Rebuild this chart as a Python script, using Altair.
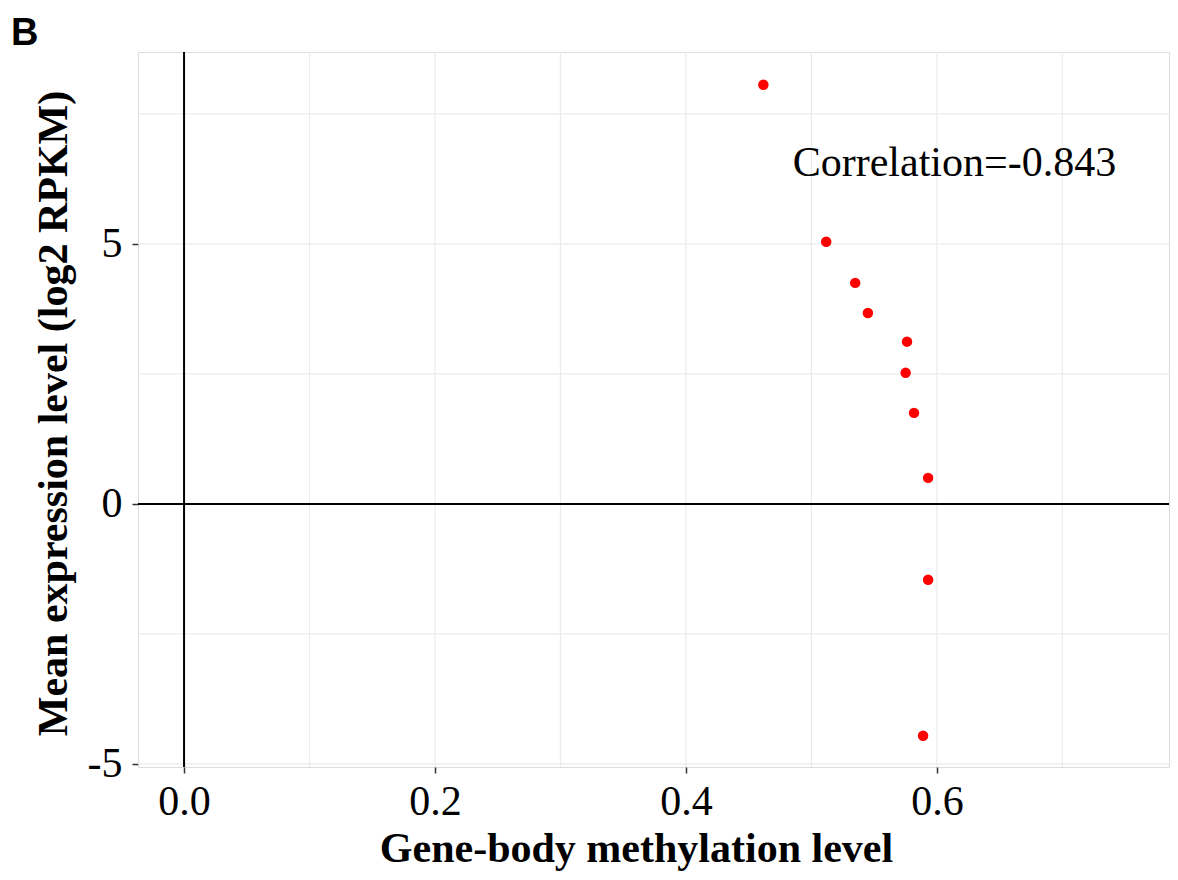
import altair as alt
import pandas as pd

# data
methylation = [0.4617, 0.5118, 0.5349, 0.5450, 0.5762, 0.5751, 0.5818, 0.5930, 0.5930, 0.5890]
expression = [8.06, 5.04, 4.25, 3.67, 3.12, 2.52, 1.75, 0.50, -1.46, -4.46]
x_ticks = [0.0, 0.2, 0.4, 0.6]
y_ticks = [-5, 0, 5]
x_grid = [0.0, 0.1, 0.2, 0.3, 0.4, 0.5, 0.6, 0.7]
y_grid = [-5, -2.5, 0, 2.5, 5, 7.5]
annot_text = ["Correlation=-0.843"]
annot_x = [0.614]
annot_y = [6.56]

x_dom = [-0.0367, 0.785]
y_dom = [-5.06, 8.69]

FONT = "Liberation Serif"

pts = pd.DataFrame({"x": methylation, "y": expression})
xg = pd.DataFrame({"x": x_grid})
yg = pd.DataFrame({"y": y_grid})
ann = pd.DataFrame({"t": annot_text, "x": annot_x, "y": annot_y})

xs = alt.Scale(domain=x_dom, nice=False, zero=False)
ys = alt.Scale(domain=y_dom, nice=False, zero=False)

x_axis = alt.Axis(
    values=x_ticks, labelExpr="format(datum.value, '.1f')", grid=False,
    title="Gene-body methylation level", titleFont=FONT, titleFontSize=42,
    titleFontWeight="bold", titleColor="black", titleX=498, titleY=94,
    titleBaseline="alphabetic", titleAlign="center",
    labelFont=FONT, labelFontSize=42, labelColor="black", labelPadding=8,
    tickSize=6, tickColor="#333333", tickWidth=1.5, domain=False,
)
y_axis = alt.Axis(
    values=y_ticks, labelExpr="'' + datum.value", grid=False,
    title="Mean expression level (log2 RPKM)", titleFont=FONT, titleFontSize=42,
    titleFontWeight="bold", titleColor="black", titleX=-72, titleY=361,
    titleBaseline="alphabetic", titleAlign="center", titleAngle=-90,
    labelFont=FONT, labelFontSize=42, labelColor="black", labelPadding=10,
    tickSize=6, tickColor="#333333", tickWidth=1.5, domain=False,
)

vgrid = alt.Chart(xg).mark_rule(color="#ebebeb", strokeWidth=1.2).encode(
    x=alt.X("x:Q", scale=xs, axis=x_axis)
)
hgrid = alt.Chart(yg).mark_rule(color="#ebebeb", strokeWidth=1.2).encode(
    y=alt.Y("y:Q", scale=ys, axis=y_axis)
)
zero_v = alt.Chart(pd.DataFrame({"x": [0.0]})).mark_rule(color="black", strokeWidth=2).encode(
    x=alt.X("x:Q", scale=xs)
)
zero_h = alt.Chart(pd.DataFrame({"y": [0.0]})).mark_rule(color="black", strokeWidth=2).encode(
    y=alt.Y("y:Q", scale=ys)
)
points = alt.Chart(pts).mark_circle(color="#ff0000", size=110, opacity=1).encode(
    x=alt.X("x:Q", scale=xs),
    y=alt.Y("y:Q", scale=ys),
)
annot = alt.Chart(ann).mark_text(font=FONT, fontSize=42, color="black", align="center", baseline="middle").encode(
    x=alt.X("x:Q", scale=xs),
    y=alt.Y("y:Q", scale=ys),
    text="t:N",
)
panel = alt.Chart(pd.DataFrame({"t": ["B"]})).mark_text(
    font="Liberation Sans", fontSize=38, fontWeight="bold", color="black",
    align="left", baseline="alphabetic"
).encode(x=alt.value(-127), y=alt.value(-7), text="t:N")

chart = alt.layer(vgrid, hgrid, zero_v, zero_h, points, annot, panel).properties(
    width=1031, height=715,
    autosize=alt.AutoSizeParams(type="none"),
    padding={"left": 130, "top": 44, "right": 1, "bottom": 105},
).configure_view(stroke="#8c8c8c", strokeWidth=2).configure(background="white")

chart.save("out.html", embed_options={"renderer": "svg", "actions": False})
